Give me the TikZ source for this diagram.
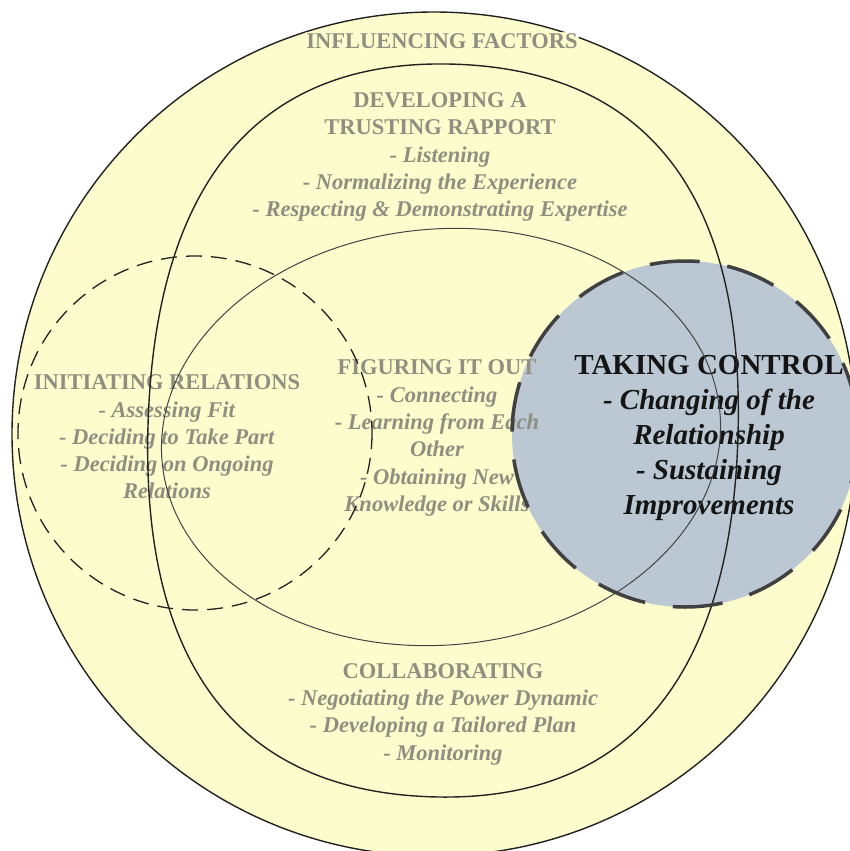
\documentclass[tikz,border=0pt]{standalone}
\usepackage{fontspec}
\setmainfont{Liberation Serif}
\definecolor{paleyellow}{HTML}{FDFCCC}
\definecolor{slateblue}{HTML}{BBC8D4}
\definecolor{fadedtext}{HTML}{8F8E80}
\definecolor{inkline}{HTML}{222222}

\begin{document}
\begin{tikzpicture}[x=1pt,y=-1pt,
  ring/.style={draw=inkline, line width=1.4pt},
  thinring/.style={draw=inkline!85, line width=1pt},
  dashring/.style={draw=inkline, line width=1.3pt, dash pattern=on 16pt off 9pt},
  boldring/.style={draw=black!75, line width=3.5pt, dash pattern=on 50pt off 28pt},
  phase/.style={align=center, text=fadedtext, inner sep=1pt,
    font=\fontsize{22.5}{27.3}\selectfont\bfseries},
  focus/.style={align=center, text=black!92, inner sep=1pt,
    font=\fontsize{29}{35}\selectfont\bfseries},
]
\useasboundingbox (0,0) rectangle (849,851);

% fills
\fill[paleyellow] (434,434) circle[radius=422];
\fill[slateblue] (685,434) circle[radius=173];

% texts
\node[phase] (influence) at (442,41) {INFLUENCING FACTORS};
\node[phase] (rapport) at (440,157) {DEVELOPING A\\TRUSTING RAPPORT\\
  \textit{- Listening}\\\textit{- Normalizing the Experience}\\
  \textit{- Respecting \& Demonstrating Expertise}};
\node[phase] (initiating) at (167,437) {INITIATING RELATIONS\\
  \textit{- Assessing Fit}\\\textit{- Deciding to Take Part}\\
  \textit{- Deciding on Ongoing}\\\textit{Relations}};
\node[phase] (figuring) at (437,438) {FIGURING IT OUT\\
  \textit{- Connecting}\\\textit{- Learning from Each}\\\textit{Other}\\
  \textit{- Obtaining New}\\\textit{Knowledge or Skills}};
\node[focus] (control) at (709,438) {TAKING CONTROL\\
  \textit{- Changing of the}\\\textit{Relationship}\\
  \textit{- Sustaining}\\\textit{Improvements}};
\node[phase] (collab) at (443,714) {COLLABORATING\\
  \textit{- Negotiating the Power Dynamic}\\
  \textit{- Developing a Tailored Plan}\\\textit{- Monitoring}};

% outer ring, broken where its title sits
\begin{scope}[even odd rule]
  \clip (-20,-20) rectangle (880,880)
    (influence.south west) rectangle (influence.north east);
  \draw[ring] (434,434) circle[radius=422];
\end{scope}

% rapport / collaborating ring (slightly squared oval)
\draw[ring, rotate around={-2:(443,430.5)}]
  (738,430.5) .. controls (738,672.4) and (637.7,797) .. (443,797)
  .. controls (248.3,797) and (148,672.4) .. (148,430.5)
  .. controls (148,188.6) and (248.3,64) .. (443,64)
  .. controls (637.7,64) and (738,188.6) .. (738,430.5) -- cycle;

% figuring it out ellipse
\draw[thinring, rotate around={5:(441,437)}] (441,437) ellipse[x radius=280, y radius=208];

% initiating relations
\draw[dashring] (195,433) circle[radius=177];

% taking control
\draw[boldring] (685,434) circle[radius=173];
\end{tikzpicture}
\end{document}
